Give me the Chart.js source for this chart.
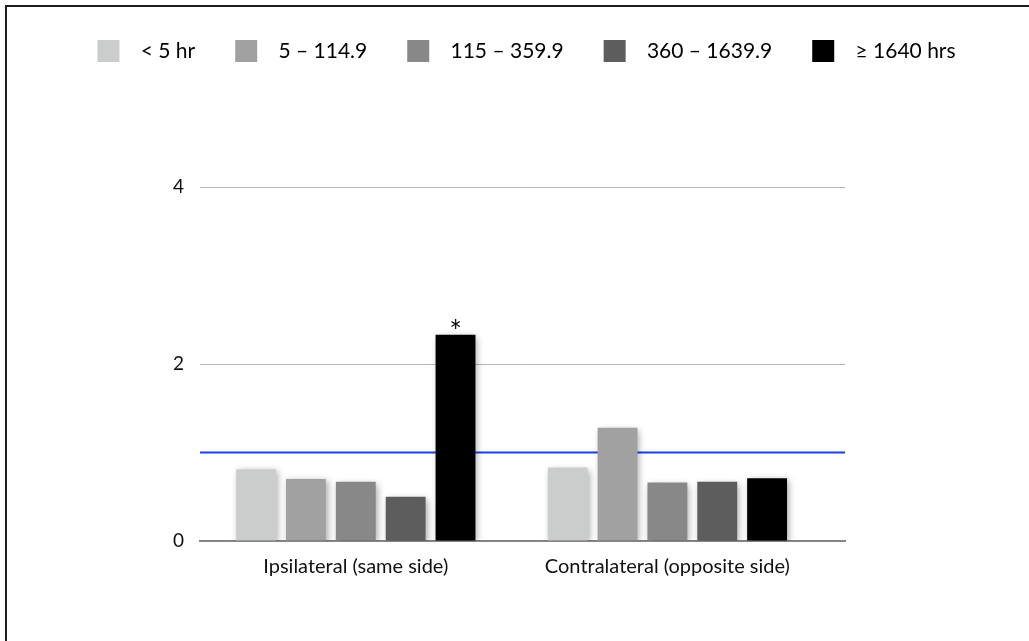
<!DOCTYPE html>
<html>
<head>
<meta charset="utf-8">
<script src="https://cdn.jsdelivr.net/npm/chart.js@4/dist/chart.umd.min.js"></script>
<style>
  html, body { margin: 0; padding: 0; background: #fff; }
  #wrap { position: relative; width: 1029px; height: 641px; }
</style>
</head>
<body>
<div id="wrap"><canvas id="myChart"></canvas></div>
<script>
// Data
var categories = ['Ipsilateral (same side)', 'Contralateral (opposite side)']
var seriesNames = ['< 5 hr', '5 \u2013 114.9', '115 \u2013 359.9', '360 \u2013 1639.9', '\u2265 1640 hrs']
var seriesColors = ['#cbcdcd', '#a0a1a0', '#878887', '#5c5d5c', '#000000']
var lt5 = [0.81, 0.83]
var h5to115 = [0.70, 1.28]
var h115to360 = [0.67, 0.66]
var h360to1640 = [0.50, 0.67]
var ge1640 = [2.33, 0.71]
var seriesValues = [lt5, h5to115, h115to360, h360to1640, ge1640]
var notes = [['', ''], ['', ''], ['', ''], ['', ''], ['*', '']]
var yTicks = [0, 2, 4]
var refValue = 1

var FONT = 'Lato, "Open Sans", sans-serif'

var datasets = seriesNames.map(function (name, i) {
  return {
    label: name,
    data: seriesValues[i].map(function (v, j) { return { x: j, y: v } }),
    backgroundColor: seriesColors[i],
    borderWidth: 0,
    categoryPercentage: 0.8,
    barPercentage: 0.8
  }
})

// frame, reference line, shadows, asterisks
var decor = {
  id: 'decor',
  beforeInit: function (chart) {
    var fit = chart.legend.fit
    chart.legend.fit = function () {
      fit.bind(chart.legend)()
      this.height = 187
    }
  },
  beforeDraw: function (chart) {
    var c = chart.ctx
    c.save()
    c.strokeStyle = '#1e1e1e'
    c.lineWidth = 2
    c.beginPath()
    c.moveTo(6, 641)
    c.lineTo(6, 6)
    c.lineTo(1029, 6)
    c.stroke()
    c.restore()
  },
  beforeDatasetsDraw: function (chart) {
    var c = chart.ctx
    var a = chart.chartArea
    var y = chart.scales.y.getPixelForValue(refValue)
    c.save()
    c.strokeStyle = '#1f3fe0'
    c.lineWidth = 2
    c.beginPath()
    c.moveTo(a.left, y)
    c.lineTo(a.right, y)
    c.stroke()
    c.restore()
    c.save()
    c.shadowColor = 'rgba(0,0,0,0.35)'
    c.shadowBlur = 7
    c.shadowOffsetX = 2
    c.shadowOffsetY = 2
  },
  afterDatasetsDraw: function (chart) {
    var c = chart.ctx
    c.restore()
    c.save()
    c.fillStyle = '#111'
    c.font = '30px ' + FONT
    c.textAlign = 'center'
    c.textBaseline = 'bottom'
    notes.forEach(function (row, i) {
      row.forEach(function (txt, j) {
        if (!txt) return
        var bar = chart.getDatasetMeta(i).data[j]
        c.fillText(txt, bar.x, bar.y + 13)
      })
    })
    c.restore()
  }
}

var ctx = document.getElementById('myChart')
var myChart = new Chart(ctx, {
  type: 'bar',
  data: { datasets: datasets },
  plugins: [decor],
  options: {
    responsive: true,
    maintainAspectRatio: false,
    animation: false,
    layout: { padding: { left: 24, right: 0, top: 0, bottom: 0 } },
    plugins: {
      tooltip: { enabled: false },
      legend: {
        position: 'top',
        labels: {
          boxWidth: 22,
          boxHeight: 22,
          padding: 40,
          color: '#111',
          font: { family: FONT, size: 21 },
          generateLabels: function (chart) {
            return seriesNames.map(function (name, i) {
              return {
                text: '  ' + name,
                fillStyle: seriesColors[i],
                strokeStyle: seriesColors[i],
                lineWidth: 0,
                datasetIndex: i
              }
            })
          }
        }
      }
    },
    scales: {
      x: {
        type: 'linear',
        min: -0.5,
        max: 1.57,
        offset: false,
        grid: { display: false, drawTicks: false },
        border: { display: true, color: '#858585', width: 2 },
        ticks: {
          stepSize: 1,
          includeBounds: false,
          padding: 14,
          color: '#111',
          font: { family: FONT, size: 20 },
          callback: function (v) { return categories[v] !== undefined ? categories[v] : '' }
        },
        afterFit: function (s) { s.height = 100 }
      },
      y: {
        min: yTicks[0],
        max: yTicks[yTicks.length - 1],
        afterBuildTicks: function (s) { s.ticks = yTicks.map(function (v) { return { value: v } }) },
        grid: { color: '#b4b4b4', lineWidth: 1, drawTicks: false },
        border: { display: false },
        ticks: {
          padding: 16,
          color: '#111',
          font: { family: FONT, size: 19 }
        },
        afterFit: function (s) { s.width = 176 }
      },
      pad: {
        position: 'right',
        display: true,
        grid: { display: false, drawTicks: false },
        border: { display: false },
        ticks: { display: false },
        afterFit: function (s) { s.width = 184 }
      }
    }
  }
})
</script>
</body>
</html>
